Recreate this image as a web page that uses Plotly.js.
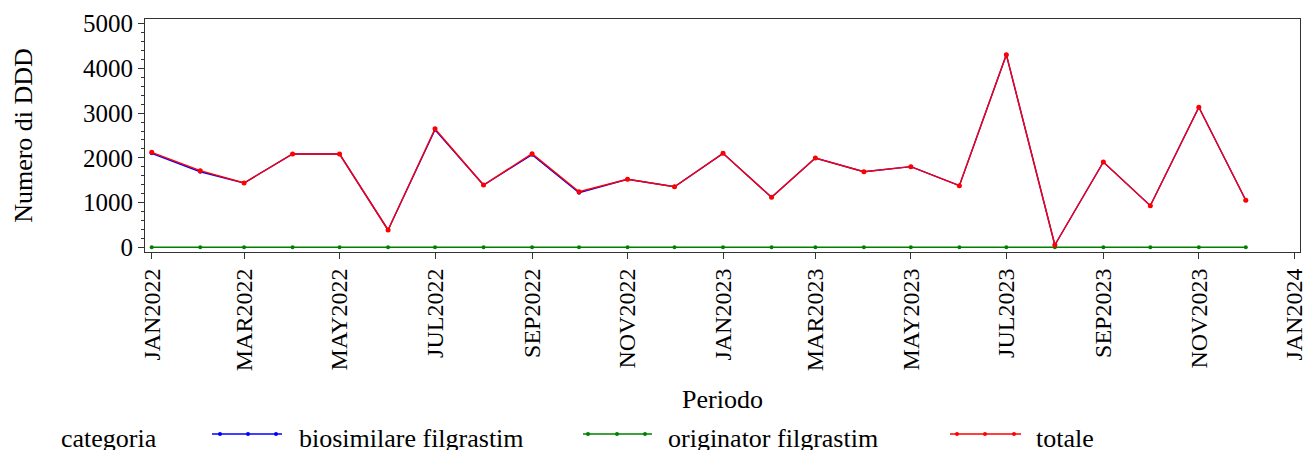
<!DOCTYPE html>
<html>
<head>
<meta charset="utf-8">
<script src="https://cdn.plot.ly/plotly-3.0.1.min.js"></script>
<style>html,body{margin:0;padding:0;background:#fff;}#chart{width:1306px;height:450px;}</style>
</head>
<body>
<div id="chart"></div>
<script>
// ---- data ----
var months = ["2022-01-01","2022-02-01","2022-03-01","2022-04-01","2022-05-01","2022-06-01",
              "2022-07-01","2022-08-01","2022-09-01","2022-10-01","2022-11-01","2022-12-01",
              "2023-01-01","2023-02-01","2023-03-01","2023-04-01","2023-05-01","2023-06-01",
              "2023-07-01","2023-08-01","2023-09-01","2023-10-01","2023-11-01","2023-12-01"];
var biosimilare = [2102, 1690, 1438, 2086, 2086, 387, 2630, 1393, 2070, 1221, 1520, 1355,
                   2102, 1118, 1997, 1690, 1803, 1378, 4308, 51, 1907, 930, 3131, 1051];
var originator  = [0, 0, 0, 0, 0, 0, 0, 0, 0, 0, 0, 0,
                   0, 0, 0, 0, 0, 0, 0, 0, 0, 0, 0, 0];
var totale      = [2124, 1713, 1438, 2086, 2086, 387, 2652, 1393, 2093, 1243, 1520, 1355,
                   2102, 1118, 1997, 1690, 1803, 1378, 4308, 51, 1907, 930, 3131, 1051];
var tickDates  = ["2022-01-01","2022-03-01","2022-05-01","2022-07-01","2022-09-01","2022-11-01",
                  "2023-01-01","2023-03-01","2023-05-01","2023-07-01","2023-09-01","2023-11-01","2024-01-01"];
var tickLabels = ["JAN2022","MAR2022","MAY2022","JUL2022","SEP2022","NOV2022",
                  "JAN2023","MAR2023","MAY2023","JUL2023","SEP2023","NOV2023","JAN2024"];
var seriesNames  = ["biosimilare filgrastim","originator filgrastim","totale"];
var seriesColors = ["#0000FF","#008000","#FF0000"];
var legendTitle = "categoria";

// ---- chart ----
var FONT = "Liberation Serif, Times New Roman, serif";
var W = 1306, H = 450, ML = 145, MR = 6, MT = 19, MB = 198;
var PW = W - ML - MR, PH = H - MT - MB;

var seriesData = [biosimilare, originator, totale];
var traces = seriesData.map(function(vals, i){
  return {
    type: 'scatter', mode: 'lines+markers', x: months, y: vals, name: seriesNames[i],
    line: {color: seriesColors[i], width: 1.4},
    marker: {color: seriesColors[i], size: i === 2 ? 5 : 4, symbol: 'circle'},
    showlegend: false, hoverinfo: 'x+y+name'
  };
});

// manual legend (paper coords)
function px2x(p){ return (p - ML) / PW; }
function py2y(p){ return (MT + PH - p) / PH; }
var legendY = 434;
var legendItems = [
  {x0: 212, x1: 282, mk: [220, 248, 276], tx: 297},
  {x0: 583, x1: 652, mk: [588, 617, 645], tx: 666},
  {x0: 950, x1: 1021, mk: [957, 985, 1014], tx: 1034}
];
var shapes = [], annotations = [];
annotations.push({xref:'paper', yref:'paper', x: px2x(59), y: py2y(438), xanchor:'left', yanchor:'middle',
  text: legendTitle, showarrow:false, font:{family:FONT, size:26, color:'#000'}});
legendItems.forEach(function(it, i){
  shapes.push({type:'line', xref:'paper', yref:'paper', x0: px2x(it.x0), x1: px2x(it.x1),
    y0: py2y(legendY), y1: py2y(legendY), line:{color: seriesColors[i], width:1.4}});
  it.mk.forEach(function(m){
    shapes.push({type:'circle', xref:'paper', yref:'paper', xsizemode:'pixel', ysizemode:'pixel',
      xanchor: px2x(m), yanchor: py2y(legendY), x0:-2, x1:2, y0:-2, y1:2,
      fillcolor: seriesColors[i], line:{color: seriesColors[i], width:0}});
  });
  annotations.push({xref:'paper', yref:'paper', x: px2x(it.tx), y: py2y(438), xanchor:'left', yanchor:'middle',
    text: seriesNames[i], showarrow:false, font:{family:FONT, size:26, color:'#000'}});
});

var layout = {
  width: W, height: H,
  margin: {l: ML, r: MR, t: MT, b: MB, pad: 0},
  paper_bgcolor: '#fff', plot_bgcolor: '#fff',
  font: {family: FONT, color: '#000'},
  showlegend: false,
  xaxis: {
    type: 'date',
    range: ['2021-12-27 17:00', '2024-01-04 15:00'],
    tickmode: 'array', tickvals: tickDates, ticktext: tickLabels, tickangle: -90,
    ticklabeloverflow: 'allow',
    ticks: 'outside', ticklen: 6, tickcolor: '#333', tickwidth: 1,
    tickfont: {family: FONT, size: 24, color: '#000'},
    showline: true, mirror: true, linecolor: '#333', linewidth: 1,
    showgrid: false, zeroline: false,
    title: {text: 'Periodo', font: {family: FONT, size: 26, color: '#000'}, standoff: 19},
    automargin: false
  },
  yaxis: {
    range: [-105, 5105],
    tickmode: 'linear', tick0: 0, dtick: 1000,
    ticks: 'outside', ticklen: 6, tickcolor: '#333', tickwidth: 1,
    minor: {dtick: 200, tick0: 0, ticks: 'outside', ticklen: 3, tickcolor: '#333', showgrid: false},
    tickfont: {family: FONT, size: 25, color: '#000'},
    showline: true, mirror: true, linecolor: '#333', linewidth: 1,
    showgrid: false, zeroline: false,
    title: {text: 'Numero di DDD', font: {family: FONT, size: 26, color: '#000'}, standoff: 42},
    automargin: false
  },
  shapes: shapes,
  annotations: annotations
};

Plotly.newPlot('chart', traces, layout, {displayModeBar: false, staticPlot: true});
</script>
</body>
</html>
